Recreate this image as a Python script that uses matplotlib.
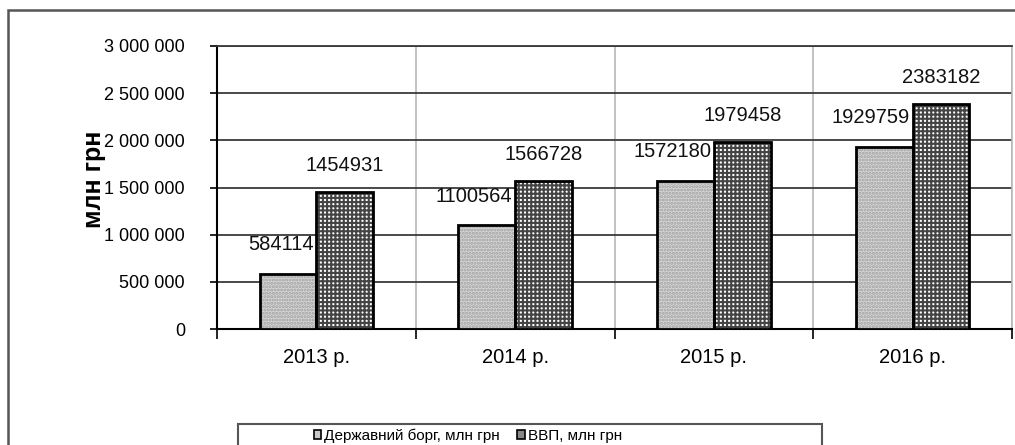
import matplotlib
matplotlib.use("Agg")
import matplotlib.pyplot as plt
import numpy as np
from matplotlib.patches import Rectangle
from matplotlib.ticker import FuncFormatter, FixedLocator

plt.rcParams['font.family'] = ['Liberation Sans', 'DejaVu Sans']
plt.rcParams['hatch.linewidth'] = 1.5

years = ['2013 р.', '2014 р.', '2015 р.', '2016 р.']
debt = [584114, 1100564, 1572180, 1929759]
gdp = [1454931, 1566728, 1979458, 2383182]
series_names = ['Державний борг, млн грн', 'ВВП, млн грн']
y_ticks = [0, 500000, 1000000, 1500000, 2000000, 2500000, 3000000]


def fmt(v, pos):
    if v == 0:
        return '0'
    return '{:,.0f}'.format(v).replace(',', ' ')


def main():
    fig = plt.figure(figsize=(10.15, 4.45), dpi=100)
    ax = fig.add_axes([217 / 1015, 1 - 329 / 445, 795 / 1015, 283 / 445])

    x = np.arange(len(years))
    w = 0.286
    # light bars with fine dot texture
    ax.bar(x - w / 2, debt, w, color='#d6d6d6', edgecolor='#a0a0a0',
           hatch='.....', linewidth=0, zorder=3)
    ax.bar(x - w / 2, debt, w, fill=False, edgecolor='black', linewidth=2, zorder=4)
    # dark checker bars
    ax.bar(x + w / 2, gdp, w, color='white', edgecolor='#444444',
           hatch='++++', linewidth=0, zorder=3)
    ax.bar(x + w / 2, gdp, w, fill=False, edgecolor='black', linewidth=2, zorder=4)

    for i in range(len(years)):
        ax.annotate(str(debt[i]), (x[i], debt[i]), xytext=(-2, 21),
                    textcoords='offset points', ha='right', va='center',
                    fontsize=14.5, color='#111111', zorder=5)
        ax.annotate(str(gdp[i]), (x[i] + w / 2, gdp[i]), xytext=(0, 19),
                    textcoords='offset points', ha='center', va='center',
                    fontsize=14.5, color='#111111', zorder=5)

    ax.set_xlim(-0.5, 3.5)
    ax.set_ylim(0, 3000000)
    ax.set_yticks(y_ticks)
    ax.yaxis.set_major_formatter(FuncFormatter(fmt))
    ax.set_xticks(x)
    ax.set_xticklabels(years)
    ax.xaxis.set_minor_locator(FixedLocator([-0.5, 0.5, 1.5, 2.5, 3.5]))
    ax.tick_params(axis='x', which='major', length=0, pad=14, labelsize=14.5)
    ax.tick_params(axis='x', which='minor', length=7, width=1.2, direction='out')
    ax.tick_params(axis='y', length=5, width=1.2, pad=18, labelsize=13)

    ax.grid(axis='y', color='#3a3a3a', linewidth=1.3, zorder=1)
    ax.grid(axis='x', which='minor', color='#b8b8b8', linewidth=1.2, zorder=1)
    ax.spines['right'].set_color('#b8b8b8')
    ax.spines['right'].set_linewidth(1.2)
    ax.spines['top'].set_color('#3a3a3a')
    ax.spines['top'].set_linewidth(1.3)
    ax.spines['left'].set_linewidth(1.5)
    ax.spines['bottom'].set_linewidth(1.5)

    fig.text(94 / 1015, 1 - 179 / 445, 'млн грн', rotation=90, ha='center',
             va='center', fontsize=18, fontweight='bold')

    # outer chart frame
    fig.patches.append(Rectangle((8 / 1015, -0.1), 1.1, 1 - 10 / 445 + 0.1,
                                 transform=fig.transFigure, fill=False,
                                 edgecolor='#555555', linewidth=1.8))
    # legend frame
    fig.patches.append(Rectangle((238 / 1015, -0.1), 584 / 1015, 1 - 424 / 445 + 0.1,
                                 transform=fig.transFigure, fill=False,
                                 edgecolor='#555555', linewidth=1.5))

    h1 = Rectangle((0, 0), 1, 1, facecolor='#c8c8c8', edgecolor='black', linewidth=1.2)
    h2 = Rectangle((0, 0), 1, 1, facecolor='#888888', edgecolor='black', linewidth=1.2)
    fig.legend([h1, h2], series_names, loc='center left',
               bbox_to_anchor=(306 / 1015, 1 - 436 / 445), ncol=2, frameon=False,
               fontsize=11, handlelength=0.5, handleheight=0.5, handletextpad=0.2,
               columnspacing=1.1, borderpad=0)

    fig.savefig('out.png', dpi=100)


if __name__ == "__main__":
    main()
